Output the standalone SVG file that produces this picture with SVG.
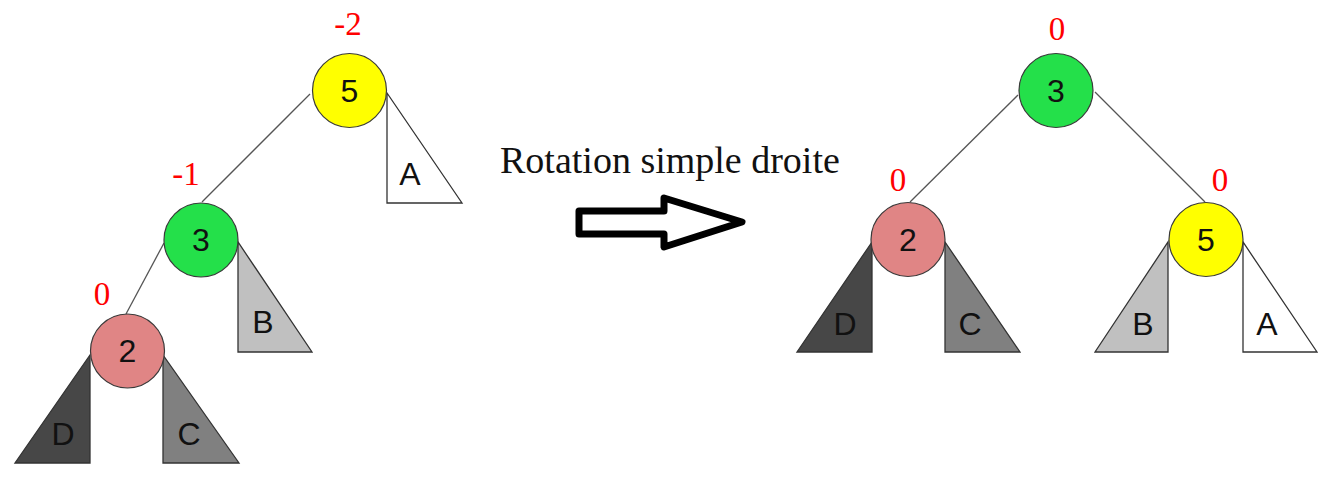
<svg xmlns="http://www.w3.org/2000/svg" width="1331" height="486" viewBox="0 0 1331 486">
<style>
.node{stroke:#3a3a3a;stroke-width:1.2}
.y{fill:#ffff00}.g{fill:#24e04a}.p{fill:#e08585}
.tri{stroke:#333;stroke-width:1.3;stroke-linejoin:miter}
.t0{fill:#ffffff}.t1{fill:#c0c0c0}.t2{fill:#808080}.t3{fill:#474747}
.lab{font-family:"Liberation Sans",Arial,sans-serif;font-size:32px;fill:#111;text-anchor:middle}
.bal{font-family:"Liberation Serif","Times New Roman",serif;font-size:33px;fill:#ff0000;text-anchor:middle}
.edge{stroke:#555;stroke-width:1.3;fill:none}
.title{font-family:"Liberation Serif","Times New Roman",serif;font-size:38px;fill:#111}
</style>
<rect width="1331" height="486" fill="#ffffff"/>

<g id="connectors">
  <line class="edge" x1="310" y1="94" x2="202" y2="202"/>
  <line class="edge" x1="164" y1="243" x2="126" y2="314"/>
  <line class="edge" x1="1018" y1="95" x2="910" y2="202"/>
  <line class="edge" x1="1095" y1="92" x2="1205" y2="202"/>
</g>

<!-- Left tree subtrees -->
<g id="L-subtree-A"><polygon class="tri t0" points="387,93 387,203 462,203"/><text class="lab" x="410" y="185">A</text></g>
<g id="L-subtree-B"><polygon class="tri t1" points="238,242 238,352 312,352"/><text class="lab" x="263" y="333">B</text></g>
<g id="L-subtree-D"><polygon class="tri t3" points="90,355 90,463 15,463"/><text class="lab" x="63" y="445">D</text></g>
<g id="L-subtree-C"><polygon class="tri t2" points="163,355 163,463 239,463"/><text class="lab" x="189" y="445">C</text></g>

<g id="L-node-5"><circle class="node y" cx="349.5" cy="90.5" r="37"/><text class="lab" x="349.5" y="101.5">5</text><text class="bal" x="348" y="35">-2</text></g>
<g id="L-node-3"><circle class="node g" cx="201" cy="240" r="37"/><text class="lab" x="201" y="251">3</text><text class="bal" x="186" y="185">-1</text></g>
<g id="L-node-2"><circle class="node p" cx="127.5" cy="351" r="37"/><text class="lab" x="127.5" y="362">2</text><text class="bal" x="102" y="305">0</text></g>

<!-- Arrow and caption -->
<g id="arrow">
  <text class="title" x="500" y="173">Rotation simple droite</text>
  <polygon points="579,211 664,211 664,198 742,222 664,247 664,234 579,234" fill="#ffffff" stroke="#000" stroke-width="7" stroke-linejoin="round"/>
</g>

<!-- Right tree subtrees -->
<g id="R-subtree-D"><polygon class="tri t3" points="872,242 872,352 797,352"/><text class="lab" x="845" y="335">D</text></g>
<g id="R-subtree-C"><polygon class="tri t2" points="945,242 945,352 1020,352"/><text class="lab" x="970" y="335">C</text></g>
<g id="R-subtree-B"><polygon class="tri t1" points="1168,242 1168,352 1095,352"/><text class="lab" x="1143" y="335">B</text></g>
<g id="R-subtree-A"><polygon class="tri t0" points="1243,242 1243,352 1317,352"/><text class="lab" x="1267" y="335">A</text></g>

<g id="R-node-3"><circle class="node g" cx="1056" cy="90.5" r="37"/><text class="lab" x="1056" y="101.5">3</text><text class="bal" x="1057" y="40">0</text></g>
<g id="R-node-2"><circle class="node p" cx="908" cy="239.5" r="37"/><text class="lab" x="908" y="251">2</text><text class="bal" x="898" y="191">0</text></g>
<g id="R-node-5"><circle class="node y" cx="1206" cy="239.5" r="37"/><text class="lab" x="1206" y="251">5</text><text class="bal" x="1220" y="191">0</text></g>
</svg>
